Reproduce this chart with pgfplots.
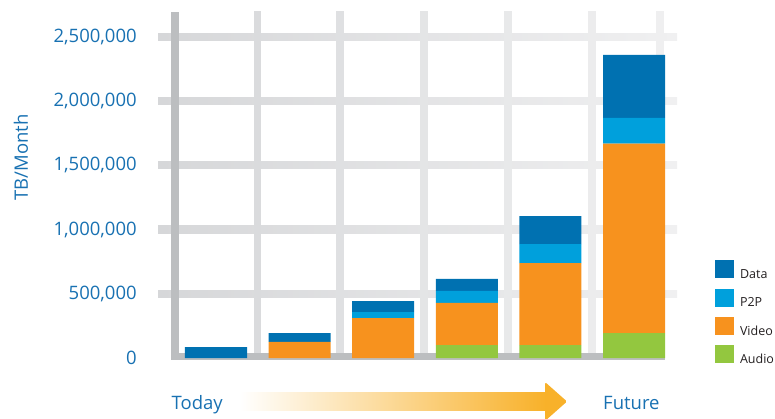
\documentclass[border=0pt]{standalone}
\usepackage{fontspec}
\setmainfont{Open Sans}
\usepackage{pgfplots}
\pgfplotsset{compat=1.18}
\usepackage{pgfplotstable}

\definecolor{tblue}{RGB}{24,113,178}
\definecolor{dataC}{RGB}{0,113,177}
\definecolor{p2pC}{RGB}{0,160,220}
\definecolor{videoC}{RGB}{247,146,30}
\definecolor{audioC}{RGB}{147,199,63}
\definecolor{bandC}{RGB}{188,190,192}
\definecolor{gridL}{RGB}{214,215,217}
\definecolor{gridR}{RGB}{240,240,241}
\definecolor{vgA}{RGB}{218,219,221}
\definecolor{vgB}{RGB}{223,224,226}
\definecolor{vgC}{RGB}{228,229,230}
\definecolor{vgD}{RGB}{232,233,234}
\definecolor{vgE}{RGB}{236,236,237}
\definecolor{vgF}{RGB}{239,239,240}
\definecolor{arrowC}{RGB}{248,177,42}
\definecolor{legC}{RGB}{35,31,32}

\pgfplotstableread{
x audio video p2p data
0 0 0 0 86000
1 0 125000 0 70000
2 0 310000 47000 86000
3 100000 330000 93000 94000
4 100000 640000 148000 218000
5 195000 1475000 200000 490000
}\traffic

\begin{document}
\begin{tikzpicture}
% background grid (picture coordinates: 1bp = 1 px, origin at bottom left)
\foreach \gy in {382,317.8,253.6,189.4,125.2}{
  \shade[left color=gridL, right color=gridR] (158bp,\gy bp-3.6bp) rectangle (677bp,\gy bp+3.6bp);
}
\foreach \gx/\gc in {257.5/vgA,340/vgB,424/vgC,508/vgD,592/vgE,660/vgF}{
  \fill[\gc] (\gx bp-3.7bp,61bp) rectangle (\gx bp+3.7bp,408bp);
}

\begin{axis}[
  at={(153.3bp,57.1bp)}, anchor=south west,
  scale only axis, width=526.7bp, height=357bp,
  xmin=-0.75, xmax=5.55, ymin=-30000, ymax=2750000,
  clip=false,
  ybar stacked, bar width=0.742,
  axis x line=none, axis y line=left,
  y axis line style={draw=none}, ytick style={draw=none},
  ytick={0,500000,1000000,1500000,2000000,2500000},
  scaled y ticks=false,
  yticklabel style={anchor=east, inner sep=0pt, xshift=-14.3bp, text=tblue,
    font=\fontsize{18.5bp}{22bp}\selectfont,
    /pgf/number format/fixed, /pgf/number format/1000 sep={,},
    /pgf/number format/assume math mode=true},
  ylabel={TB/Month},
  ylabel style={at={(axis description cs:-0.2512,0.5725)}, anchor=center,
    text=tblue, font=\fontsize{18.5bp}{22bp}\selectfont},
  reverse legend,
  legend image code/.code={\fill[#1,/tikz/.cd,draw=none] (0bp,0bp) rectangle (19bp,18bp); \path (25bp,0bp);},
  legend style={at={(1.0665,0.2854)}, anchor=north west, draw=none, fill=none,
    inner sep=0pt, outer sep=0pt, row sep=9bp, column sep=0pt,
    cells={anchor=base west},
    nodes={inner sep=0pt, text=legC, font=\fontsize{12.5bp}{15bp}\selectfont}},
]
\addplot[fill=audioC, draw=none] table[x=x,y=audio]{\traffic};
\addplot[fill=videoC, draw=none] table[x=x,y=video]{\traffic};
\addplot[fill=p2pC, draw=none] table[x=x,y=p2p]{\traffic};
\addplot[fill=dataC, draw=none] table[x=x,y=data]{\traffic};
\legend{Audio,Video,P2P,Data}

% axis bands
\fill[bandC] (axis cs:-0.538,-15600) rectangle (axis cs:-0.443,2695000);
\fill[bandC] (axis cs:-0.538,-15600) rectangle (axis cs:5.371,38900);
\end{axis}

% time arrow
\shade[left color=white, right color=arrowC] (240bp,8bp) rectangle (546bp,26bp);
\fill[arrowC, rounded corners=1.5bp] (545bp,37bp) -- (567bp,17.5bp) -- (545bp,-2bp) -- cycle;
\node[anchor=base west, inner sep=0pt, text=tblue, font=\fontsize{18.5bp}{22bp}\selectfont] at (171.5bp,9.5bp) {Today};
\node[anchor=base west, inner sep=0pt, text=tblue, font=\fontsize{18.5bp}{22bp}\selectfont] at (603bp,9.5bp) {Future};

\pgfresetboundingbox
\useasboundingbox (0bp,0bp) rectangle (775bp,419bp);
\end{tikzpicture}
\end{document}
